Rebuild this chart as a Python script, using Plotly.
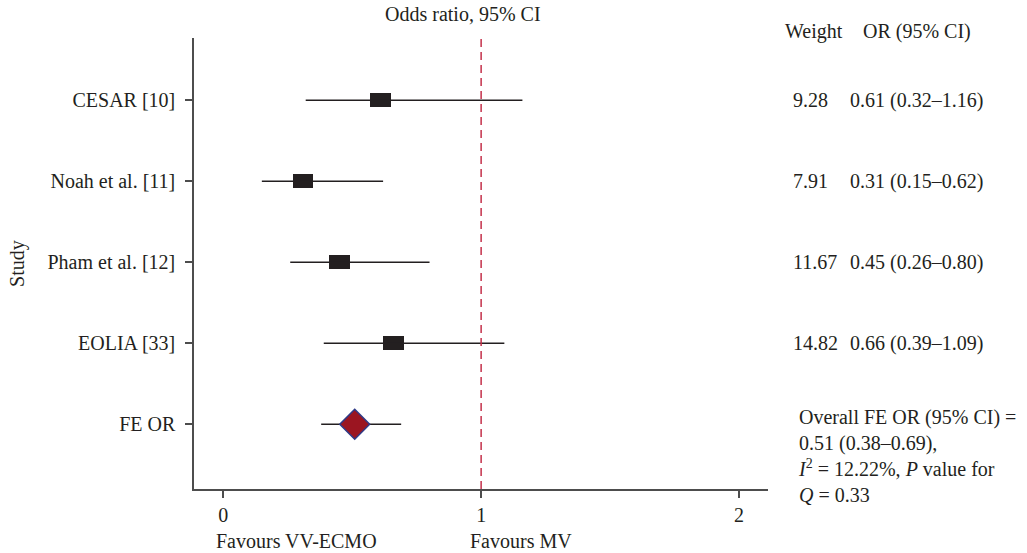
import plotly.graph_objects as go

# ---- data ----
studies = ["CESAR [10]", "Noah et al. [11]", "Pham et al. [12]", "EOLIA [33]"]
odds = [0.61, 0.31, 0.45, 0.66]
ci_low = [0.32, 0.15, 0.26, 0.39]
ci_high = [1.16, 0.62, 0.80, 1.09]
weights = ["9.28", "7.91", "11.67", "14.82"]
or_text = ["0.61 (0.32–1.16)", "0.31 (0.15–0.62)", "0.45 (0.26–0.80)", "0.66 (0.39–1.09)"]
pooled_label = "FE OR"
pooled_or = 0.51
pooled_low = 0.38
pooled_high = 0.69
x_ticks = [0, 1, 2]

FONT = "Liberation Serif"
TXT = "#231f20"
FS = 20

n = len(studies)
ypos = [n + 1 - i for i in range(n)]  # 5,4,3,2
y_pooled = 1

fig = go.Figure()

# squares (rectangles) via horizontal bars
box_half = 0.04
fig.add_trace(go.Bar(
    y=ypos, x=[2 * box_half] * n, base=[o - box_half for o in odds],
    orientation="h", width=0.17, marker=dict(color=TXT, line=dict(width=0)),
    hoverinfo="skip", showlegend=False))

# CI lines
for lo, hi, y in zip(ci_low + [pooled_low], ci_high + [pooled_high], ypos + [y_pooled]):
    fig.add_trace(go.Scatter(x=[lo, hi], y=[y, y], mode="lines",
                             line=dict(color=TXT, width=1.5), hoverinfo="skip", showlegend=False))

# pooled diamond
fig.add_trace(go.Scatter(x=[pooled_or], y=[y_pooled], mode="markers",
                         marker=dict(symbol="diamond", size=23, color="#9b1521",
                                     line=dict(color="#2e3a87", width=1.5)),
                         hoverinfo="skip", showlegend=False))

# reference line at OR = 1
fig.add_shape(type="line", xref="x", yref="paper", x0=1, x1=1, y0=0, y1=1,
              line=dict(color="#c4314b", width=1.5, dash="8px,5px"), layer="above")

def ann(text, x, y, xref="paper", yref="paper", xanchor="left", **kw):
    d = dict(text=text, xref=xref, yref=yref, x=x, y=y, xanchor=xanchor, yanchor="middle",
             showarrow=False, font=dict(family=FONT, size=FS, color=TXT))
    d.update(kw)
    return d

annotations = []
annotations.append(ann("Odds ratio, 95% CI", 0.93, 1.053, xref="x", xanchor="center"))
annotations.append(ann("Weight", 1.026, 1.0155))
annotations.append(ann("OR (95% CI)", 1.357, 1.0155, xanchor="right"))
for w, t, y in zip(weights, or_text, ypos):
    annotations.append(ann(w, 1.040, y, yref="y"))
    annotations.append(ann(t, 1.378, y, yref="y", xanchor="right"))
annotations.append(ann(
    "Overall FE OR (95% CI) =<br>0.51 (0.38–0.69),<br><i>I</i><sup>2</sup> = 12.22%, <i>P</i> value for<br><i>Q</i> = 0.33",
    1.049, 0.074, align="left"))
annotations.append(ann("Favours VV-ECMO", 0.283, -0.115, xref="x", xanchor="center"))
annotations.append(ann("Favours MV", 1.155, -0.115, xref="x", xanchor="center"))
annotations.append(ann("Study", -0.3075, 0.5, xanchor="center", textangle=-90))

fig.update_layout(
    width=1027, height=553,
    margin=dict(l=194, r=259, t=38, b=64, autoexpand=False),
    paper_bgcolor="white", plot_bgcolor="white",
    font=dict(family=FONT, size=FS, color=TXT),
    showlegend=False, bargap=0,
    annotations=annotations,
    xaxis=dict(range=[-0.113, 2.112], tickvals=x_ticks, ticktext=[str(v) for v in x_ticks],
               showline=True, linecolor="#4d4d4d", linewidth=1.5, ticks="outside",
               ticklen=7, tickcolor="#4d4d4d", tickwidth=1.5, showgrid=False, zeroline=False,
               automargin=False, tickfont=dict(family=FONT, size=FS, color=TXT)),
    yaxis=dict(range=[0.2, 5.77], tickvals=ypos + [y_pooled], ticktext=studies + [pooled_label],
               showline=True, linecolor="#4d4d4d", linewidth=1.5, ticks="outside",
               ticklen=7, tickcolor="#4d4d4d", tickwidth=1.5, showgrid=False, zeroline=False,
               ticklabelstandoff=6, automargin=False,
               tickfont=dict(family=FONT, size=FS, color=TXT)),
)

fig.write_html("out.html")
